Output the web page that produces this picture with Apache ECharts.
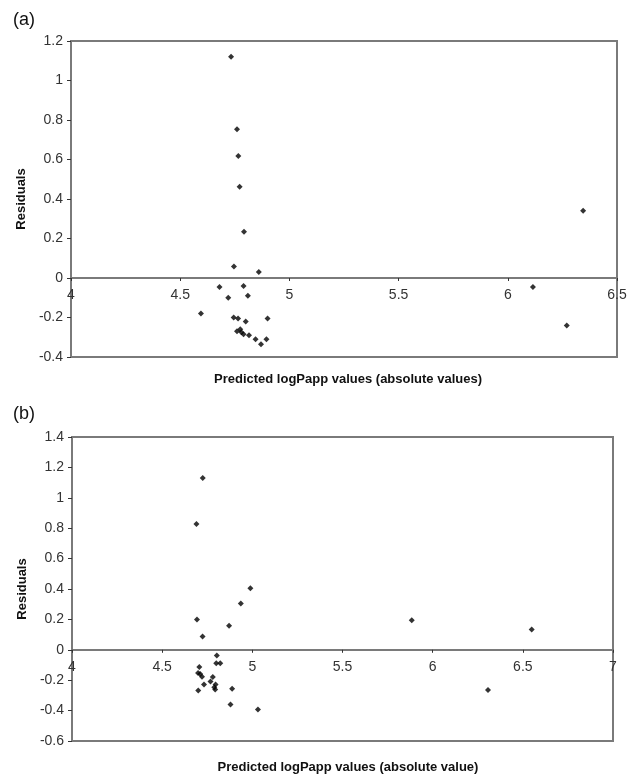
<!DOCTYPE html>
<html>
<head>
<meta charset="utf-8">
<script src="https://cdn.jsdelivr.net/npm/echarts@6/dist/echarts.min.js"></script>
<style>
  html, body { margin: 0; padding: 0; background: #fff; }
  #chart { width: 630px; height: 775px; }
</style>
</head>
<body>
<div id="chart"></div>
<script>
// panel (a): predicted logPapp vs residuals
let predA = [4.733, 4.76, 4.766, 4.772, 4.792, 4.746, 4.86, 4.68, 4.79, 4.72, 4.81, 4.595,
  4.745, 4.765, 4.80, 4.90, 4.76, 4.775, 4.78, 4.79, 4.815, 4.845, 4.87, 4.895, 6.115, 6.27, 6.345];
let residA = [1.12, 0.753, 0.618, 0.462, 0.234, 0.058, 0.03, -0.045, -0.04, -0.10, -0.09, -0.18,
  -0.20, -0.205, -0.22, -0.205, -0.27, -0.26, -0.275, -0.285, -0.29, -0.31, -0.335, -0.31, -0.045, -0.24, 0.34];

// panel (b)
let predB = [4.725, 4.69, 4.693, 4.724, 4.871, 4.936, 4.989, 5.884, 6.549, 6.307, 4.803, 4.80,
  4.822, 4.706, 4.699, 4.711, 4.721, 4.781, 4.732, 4.768, 4.796, 4.789, 4.794, 4.888, 4.70, 4.879, 5.031];
let residB = [1.13, 0.827, 0.20, 0.087, 0.159, 0.305, 0.405, 0.195, 0.133, -0.265, -0.038, -0.088,
  -0.088, -0.113, -0.152, -0.16, -0.177, -0.179, -0.229, -0.208, -0.229, -0.246, -0.262, -0.256, -0.267, -0.36, -0.392];

let xNames = ['Predicted logPapp values (absolute values)', 'Predicted logPapp values (absolute value)'];

let toPairs = function(xs, ys){
    let out = [];
    for (let i = 0; i < xs.length; i++) out.push([xs[i], ys[i]]);
    return out;
};

let font = 'Liberation Sans, Arial, sans-serif';
let lineCol = '#7a7a7a';

// x axis is lifted up to the zero line with a negative offset so labels follow it
let xAxisCfg = function(idx, max, off){
    return {
        type: 'value', gridIndex: idx, min: 4, max: max, interval: 0.5,
        position: 'bottom', offset: off,
        axisLine: { onZero: false, lineStyle: { color: lineCol, width: 2 } },
        axisTick: { show: true, length: 3, lineStyle: { color: '#333' } },
        axisLabel: { color: '#333', fontSize: 14, fontFamily: font, margin: 10 },
        splitLine: { show: false }
    };
};
let yAxisCfg = function(idx, min, max){
    return {
        type: 'value', gridIndex: idx, min: min, max: max, interval: 0.2,
        name: 'Residuals', nameLocation: 'middle', nameRotate: 90, nameGap: 40,
        nameTextStyle: { color: '#111', fontWeight: 'bold', fontSize: 13, fontFamily: font },
        axisLine: { show: true, lineStyle: { color: lineCol, width: 2 } },
        axisTick: { show: true, length: 4, lineStyle: { color: '#333' } },
        axisLabel: { color: '#333', fontSize: 14, fontFamily: font, margin: 8 },
        splitLine: { show: false }
    };
};

let option = {
    animation: false,
    backgroundColor: '#fff',
    title: [
        { text: '(a)', left: 8, top: 6, textStyle: { fontSize: 18, fontWeight: 'normal', color: '#111', fontFamily: font } },
        { text: '(b)', left: 8, top: 400, textStyle: { fontSize: 18, fontWeight: 'normal', color: '#111', fontFamily: font } },
        { text: xNames[0], left: 343, textAlign: 'center', top: 368, textStyle: { fontSize: 13, fontWeight: 'bold', color: '#111', fontFamily: font } },
        { text: xNames[1], left: 343, textAlign: 'center', top: 756, textStyle: { fontSize: 13, fontWeight: 'bold', color: '#111', fontFamily: font } }
    ],
    grid: [
        { left: 71, right: 13, top: 41, height: 316, show: true, borderColor: lineCol, borderWidth: 2 },
        { left: 72, right: 17, top: 437, height: 304, show: true, borderColor: lineCol, borderWidth: 2 }
    ],
    xAxis: [xAxisCfg(0, 6.5, -79), xAxisCfg(1, 7, -91.2)],
    yAxis: [yAxisCfg(0, -0.4, 1.2), yAxisCfg(1, -0.6, 1.4)],
    series: [
        { type: 'scatter', xAxisIndex: 0, yAxisIndex: 0, symbol: 'diamond', symbolSize: 6,
          itemStyle: { color: '#000' }, data: toPairs(predA, residA) },
        { type: 'scatter', xAxisIndex: 1, yAxisIndex: 1, symbol: 'diamond', symbolSize: 6,
          itemStyle: { color: '#000' }, data: toPairs(predB, residB) }
    ]
};

let myChart = echarts.init(document.getElementById('chart'));
myChart.setOption(option);
</script>
</body>
</html>
